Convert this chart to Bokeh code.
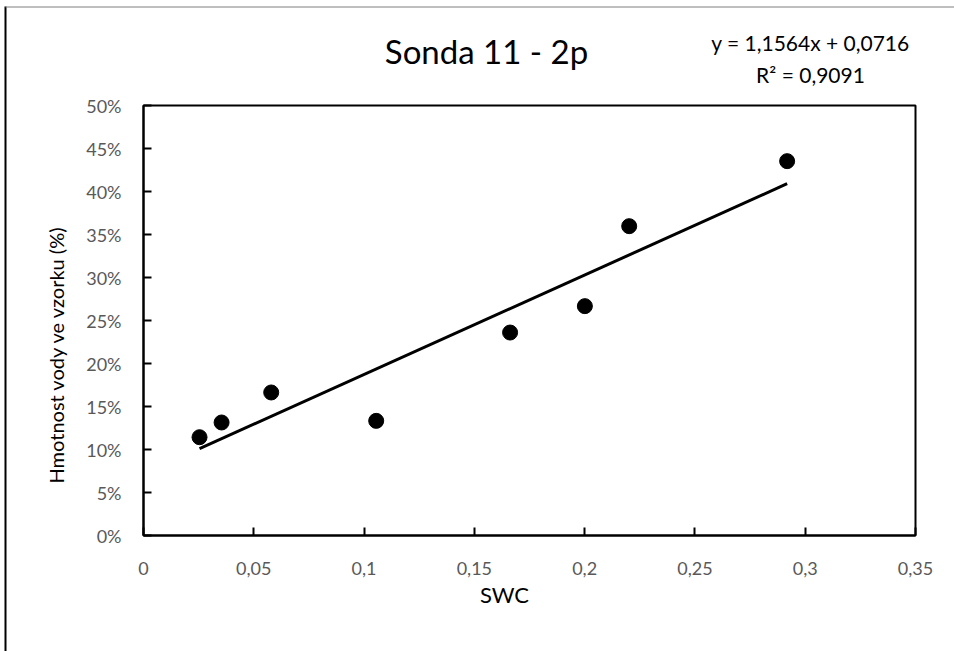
import math
from bokeh.plotting import figure
from bokeh.models import FixedTicker, Label, Range1d
from bokeh.embed import file_html
from bokeh.resources import INLINE

# ---- data ----
swc = [0.0254, 0.0354, 0.0579, 0.1055, 0.1662, 0.2001, 0.2202, 0.2918]
water = [0.1143, 0.1314, 0.1663, 0.1333, 0.2360, 0.2667, 0.3597, 0.4353]
slope = 1.1564
intercept = 0.0716
r2_text = "R² = 0,9091"
eq_text = "y = 1,1564x + 0,0716"
title_text = "Sonda 11 - 2p"
x_title = "SWC"
y_title = "Hmotnost vody ve vzorku (%)"
x_ticks = [0, 0.05, 0.1, 0.15, 0.2, 0.25, 0.3, 0.35]
x_tick_labels = ["0", "0,05", "0,1", "0,15", "0,2", "0,25", "0,3", "0,35"]
y_ticks = [0, 0.05, 0.1, 0.15, 0.2, 0.25, 0.3, 0.35, 0.4, 0.45, 0.5]
y_tick_labels = ["0%", "5%", "10%", "15%", "20%", "25%", "30%", "35%", "40%", "45%", "50%"]

FONT = "Lato"
GRAY = "#595959"
W, H = 954, 651

p = figure(output_backend="svg", toolbar_location=None,
           frame_width=772, frame_height=430,
           min_border_left=143, min_border_right=39,
           min_border_top=105, min_border_bottom=116,
           x_range=Range1d(0, 0.35), y_range=Range1d(0, 0.5),
           background_fill_color="white", border_fill_color="white")

p.xgrid.visible = False
p.ygrid.visible = False
p.outline_line_color = "black"
p.outline_line_width = 2

for ax, ticks, labels in ((p.xaxis[0], x_ticks, x_tick_labels), (p.yaxis[0], y_ticks, y_tick_labels)):
    ax.ticker = FixedTicker(ticks=ticks)
    ax.major_label_overrides = {t: l for t, l in zip(ticks, labels)}
    ax.minor_tick_line_color = None
    ax.major_tick_in = 8
    ax.major_tick_out = 0
    ax.major_tick_line_width = 2
    ax.major_tick_line_color = "black"
    ax.axis_line_color = "black"
    ax.axis_line_width = 2
    ax.major_label_text_font = FONT
    ax.major_label_text_font_size = "18px"
    ax.major_label_text_color = GRAY
p.xaxis.major_label_standoff = 26
p.yaxis.major_label_standoff = 22

# trendline
tx = [min(swc), max(swc)]
ty = [slope * v + intercept for v in tx]
p.line(tx, ty, line_color="black", line_width=3)

p.scatter(swc, water, size=15, fill_color="black", line_color="black")

# ---- transparent overlay carrying the texts (page pixel coordinates, y up) ----
t = figure(output_backend="svg", toolbar_location=None, width=W, height=H,
           min_border=0, x_axis_location=None, y_axis_location=None,
           x_range=Range1d(0, W), y_range=Range1d(0, H))
t.grid.visible = False
t.outline_line_color = None
t.background_fill_alpha = 0
t.border_fill_alpha = 0
t.styles = {"margin-top": f"-{H}px"}

# outer chart border (partially visible in the reference)
t.line([5, 5], [0, H - 6], line_color="black", line_width=2)
t.line([5, W], [H - 6.5, H - 6.5], line_color="#7f7f7f", line_width=1)

def add_text(text, x, y, size, angle=0.0):
    t.add_layout(Label(x=x, y=y, text=text, text_align="center",
                       text_baseline="alphabetic", angle=angle,
                       text_font=FONT, text_font_size=size, text_color="black"))

add_text(title_text, 486, H - 50, "33px")
add_text(eq_text, 810, H - 42, "21px")
add_text(r2_text, 810, H - 73.5, "21px")
add_text(x_title, 504, H - 594, "22px")
add_text(y_title, 55, H - 354, "20px", angle=math.pi / 2)

open("out.html", "w").write(file_html([p, t], INLINE))
